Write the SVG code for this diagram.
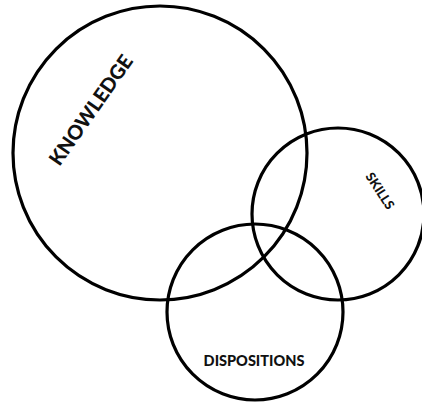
<svg xmlns="http://www.w3.org/2000/svg" width="422" height="402" viewBox="0 0 422 402">
<style>
.c{fill:none;stroke:#000;stroke-width:3.2}
.t{font-family:Lato,"Open Sans","Liberation Sans",sans-serif;font-weight:900;fill:#111;text-anchor:middle}
</style>
<rect width="422" height="402" fill="#fff"/>
<g id="knowledge">
<circle class="c" cx="160" cy="153" r="147"/>
<text class="t" font-size="20" transform="translate(91,110) rotate(-55)" dy="7">KNOWLEDGE</text>
</g>
<g id="skills">
<circle class="c" cx="338" cy="214" r="86"/>
<text class="t" font-size="13" transform="translate(380,191) rotate(57)" dy="4.5">SKILLS</text>
</g>
<g id="dispositions">
<circle class="c" cx="255" cy="312" r="88"/>
<text class="t" font-size="14.5" x="254" y="366">DISPOSITIONS</text>
</g>
<g id="connectors"></g>
</svg>
